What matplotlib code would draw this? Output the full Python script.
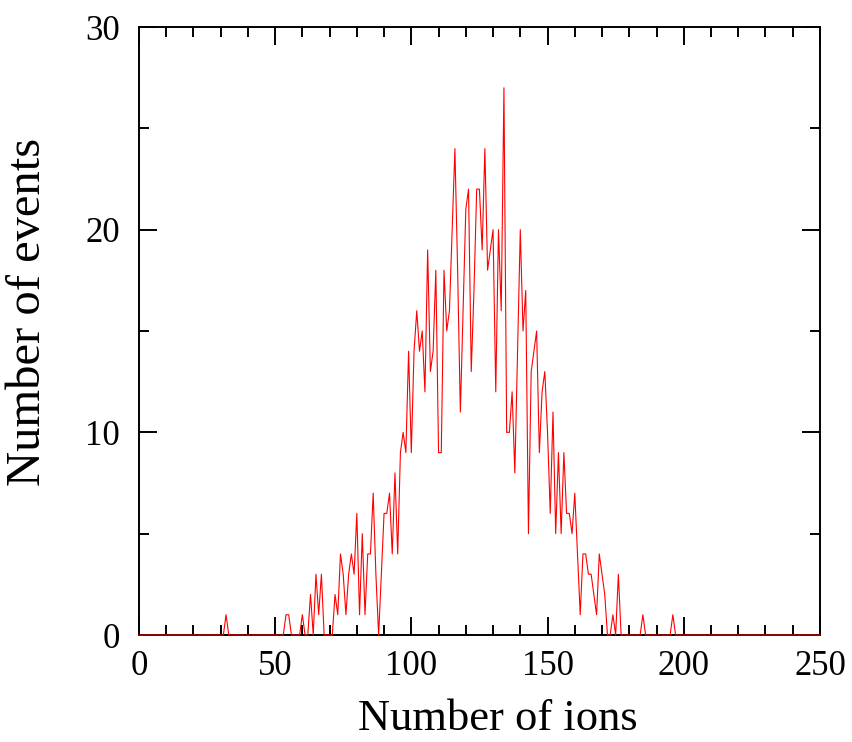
import matplotlib.pyplot as plt
import numpy as np
from matplotlib.ticker import MultipleLocator

plt.rcParams['font.family'] = ['Liberation Serif', 'DejaVu Serif']

# number of ions (0..250) and the number of events for each
ions = np.arange(0, 251)
counts = [
    0, 0, 0, 0, 0, 0, 0, 0, 0, 0,      # 0-9
    0, 0, 0, 0, 0, 0, 0, 0, 0, 0,      # 10-19
    0, 0, 0, 0, 0, 0, 0, 0, 0, 0,      # 20-29
    0, 0, 1, 0, 0, 0, 0, 0, 0, 0,      # 30-39
    0, 0, 0, 0, 0, 0, 0, 0, 0, 0,      # 40-49
    0, 0, 0, 0, 1, 1, 0, 0, 0, 0,      # 50-59
    1, 0, 0, 2, 0, 3, 1, 3, 0, 0,      # 60-69
    0, 0, 2, 1, 4, 3, 1, 3, 4, 3,      # 70-79
    6, 1, 5, 1, 4, 4, 7, 3, 0, 3,      # 80-89
    6, 6, 7, 4, 8, 4, 9, 10, 9, 14,    # 90-99
    9, 14, 16, 14, 15, 12, 19, 13, 14, 18,   # 100-109
    9, 9, 18, 15, 16, 20, 24, 18, 11, 16,    # 110-119
    21, 22, 13, 17, 22, 22, 19, 24, 18, 19,  # 120-129
    20, 12, 20, 16, 27, 10, 10, 12, 8, 14,   # 130-139
    20, 15, 17, 5, 13, 14, 15, 9, 12, 13,    # 140-149
    10, 6, 11, 5, 9, 5, 9, 6, 6, 5,          # 150-159
    7, 4, 1, 4, 4, 3, 3, 2, 1, 4,            # 160-169
    3, 2, 0, 0, 1, 0, 3, 0, 0, 0,            # 170-179
    0, 0, 0, 0, 0, 1, 0, 0, 0, 0,            # 180-189
    0, 0, 0, 0, 0, 0, 1, 0, 0, 0,            # 190-199
    0, 0, 0, 0, 0, 0, 0, 0, 0, 0,            # 200-209
    0, 0, 0, 0, 0, 0, 0, 0, 0, 0,            # 210-219
    0, 0, 0, 0, 0, 0, 0, 0, 0, 0,            # 220-229
    0, 0, 0, 0, 0, 0, 0, 0, 0, 0,            # 230-239
    0, 0, 0, 0, 0, 0, 0, 0, 0, 0,            # 240-249
    0,                                       # 250
]

fig = plt.figure(figsize=(8.52, 7.42), dpi=100)
ax = fig.add_axes([0.163, 0.1442, 0.7994, 0.8194])

ax.plot(ions, counts, color='red', lw=0.8, clip_on=False, zorder=3)

ax.set_xlim(0, 250)
ax.set_ylim(0, 30)
ax.xaxis.set_major_locator(MultipleLocator(50))
ax.xaxis.set_minor_locator(MultipleLocator(10))
ax.yaxis.set_major_locator(MultipleLocator(10))
ax.yaxis.set_minor_locator(MultipleLocator(5))

ax.tick_params(which='both', direction='in', top=True, right=True,
               width=1.4, labelsize=25)
ax.tick_params(axis='x', pad=10.5)
ax.tick_params(axis='y', pad=13.5)
ax.tick_params(which='major', length=13)
ax.tick_params(which='minor', length=7)
for s in ax.spines.values():
    s.set_linewidth(1.4)

ax.set_xlabel('Number of ions', fontsize=32)
ax.xaxis.set_label_coords(0.527, -0.105)
ax.set_ylabel('Number of events', fontsize=35)
ax.yaxis.set_label_coords(-0.131, 0.531)

fig.savefig('out.png', dpi=100)
